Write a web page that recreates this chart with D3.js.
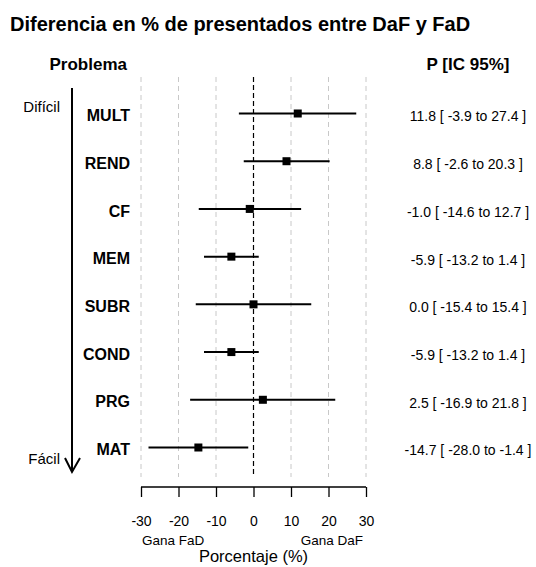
<!DOCTYPE html>
<html lang="es">
<head>
  <meta charset="UTF-8" />
  <title>Diferencia en % de presentados entre DaF y FaD</title>
  <script src="https://d3js.org/d3.v7.min.js"></script>
  <style>
    body { margin: 0; background: #fff; font-family: "Liberation Sans", Arial, sans-serif; }
    svg text { fill: #000; }
  </style>
</head>
<body>
  <svg width="536" height="567"></svg>

  <script>
    const problems = ["MULT", "REND", "CF", "MEM", "SUBR", "COND", "PRG", "MAT"];
    const estimate = [11.8, 8.8, -1.0, -5.9, 0.0, -5.9, 2.5, -14.7];
    const lower = [-3.9, -2.6, -14.6, -13.2, -15.4, -13.2, -16.9, -28.0];
    const upper = [27.4, 20.3, 12.7, 1.4, 15.4, 1.4, 21.8, -1.4];
    const xTicks = [-30, -20, -10, 0, 10, 20, 30];

    const data = problems.map((p, i) => ({
      name: p, est: estimate[i], lo: lower[i], hi: upper[i]
    }));

    const svg = d3.select("svg");

    const x = d3.scaleLinear().domain([-30, 30]).range([141, 366]);
    const y = d3.scalePoint().domain(problems).range([113.5, 447.5]);
    const gridTop = 77, gridBottom = 477, axisY = 487;

    // title
    svg.append("text")
      .attr("x", 10).attr("y", 31)
      .attr("font-size", 20).attr("font-weight", "bold")
      .text("Diferencia en % de presentados entre DaF y FaD");

    // column headers
    svg.append("text")
      .attr("x", 127).attr("y", 70)
      .attr("text-anchor", "end")
      .attr("font-size", 17).attr("font-weight", "bold")
      .text("Problema");
    svg.append("text")
      .attr("x", 468).attr("y", 70)
      .attr("text-anchor", "middle")
      .attr("font-size", 17).attr("font-weight", "bold")
      .text("P [IC 95%]");

    // vertical grid
    svg.append("g").selectAll("line")
      .data(xTicks.filter(d => d !== 0))
      .join("line")
      .attr("x1", d => x(d)).attr("x2", d => x(d))
      .attr("y1", gridTop).attr("y2", gridBottom)
      .attr("stroke", "#c8c8c8").attr("stroke-dasharray", "5,4");

    svg.append("line")
      .attr("x1", x(0)).attr("x2", x(0))
      .attr("y1", gridTop).attr("y2", gridBottom)
      .attr("stroke", "#000").attr("stroke-width", 1.2)
      .attr("stroke-dasharray", "5,3");

    // difficulty arrow
    const ax = 72;
    svg.append("line")
      .attr("x1", ax).attr("x2", ax).attr("y1", 88).attr("y2", 472)
      .attr("stroke", "#000").attr("stroke-width", 2);
    svg.append("path")
      .attr("d", `M${ax - 7},458 L${ax},472 L${ax + 8},458`)
      .attr("fill", "none").attr("stroke", "#000").attr("stroke-width", 2);
    svg.append("text")
      .attr("x", 60).attr("y", 107).attr("dy", "0.35em")
      .attr("text-anchor", "end").attr("font-size", 15)
      .attr("fill", "#222")
      .text("Difícil");
    svg.append("text")
      .attr("x", 60).attr("y", 459).attr("dy", "0.35em")
      .attr("text-anchor", "end").attr("font-size", 15)
      .attr("fill", "#222")
      .text("Fácil");

    // row labels
    svg.append("g").selectAll("text")
      .data(data)
      .join("text")
      .attr("x", 130).attr("y", d => y(d.name) + 2).attr("dy", "0.35em")
      .attr("text-anchor", "end")
      .attr("font-size", 16).attr("font-weight", "bold")
      .text(d => d.name);

    // intervals
    svg.append("g").selectAll("line")
      .data(data)
      .join("line")
      .attr("x1", d => x(d.lo)).attr("x2", d => x(d.hi))
      .attr("y1", d => y(d.name)).attr("y2", d => y(d.name))
      .attr("stroke", "#000").attr("stroke-width", 2);

    const s = 8;
    svg.append("g").selectAll("rect")
      .data(data)
      .join("rect")
      .attr("x", d => x(d.est) - s / 2).attr("y", d => y(d.name) - s / 2)
      .attr("width", s).attr("height", s)
      .attr("fill", "#000");

    // right column (plain hyphen minus, as in the original)
    const fmt = v => v.toFixed(1);
    svg.append("g").selectAll("text")
      .data(data)
      .join("text")
      .attr("x", 468).attr("y", d => y(d.name) + 3).attr("dy", "0.35em")
      .attr("text-anchor", "middle")
      .attr("font-size", 14).attr("fill", "#222")
      .text(d => `${fmt(d.est)} [ ${fmt(d.lo)} to ${fmt(d.hi)} ]`);

    // x axis
    const xAxis = d3.axisBottom(x).tickValues(xTicks)
      .tickFormat(d => String(d)).tickSize(10).tickPadding(19);
    const gx = svg.append("g")
      .attr("transform", `translate(0,${axisY})`)
      .call(xAxis);
    gx.select(".domain").attr("d", `M${x(-30)},0H${x(30)}`).attr("stroke-width", 1.3);
    gx.selectAll(".tick line").attr("stroke-width", 1.3);
    gx.selectAll(".tick text")
      .attr("font-size", 14).attr("font-family", "Liberation Sans, Arial, sans-serif")
      .attr("fill", "#222");

    svg.append("text")
      .attr("x", x(-30) + 1).attr("y", 545)
      .attr("font-size", 13.5).attr("fill", "#222")
      .text("Gana FaD");
    svg.append("text")
      .attr("x", x(30) - 3).attr("y", 545)
      .attr("text-anchor", "end")
      .attr("font-size", 13.5).attr("fill", "#222")
      .text("Gana DaF");
    svg.append("text")
      .attr("x", x(0)).attr("y", 562)
      .attr("text-anchor", "middle")
      .attr("font-size", 16.5).attr("fill", "#222")
      .text("Porcentaje (%)");
  </script>
</body>
</html>
